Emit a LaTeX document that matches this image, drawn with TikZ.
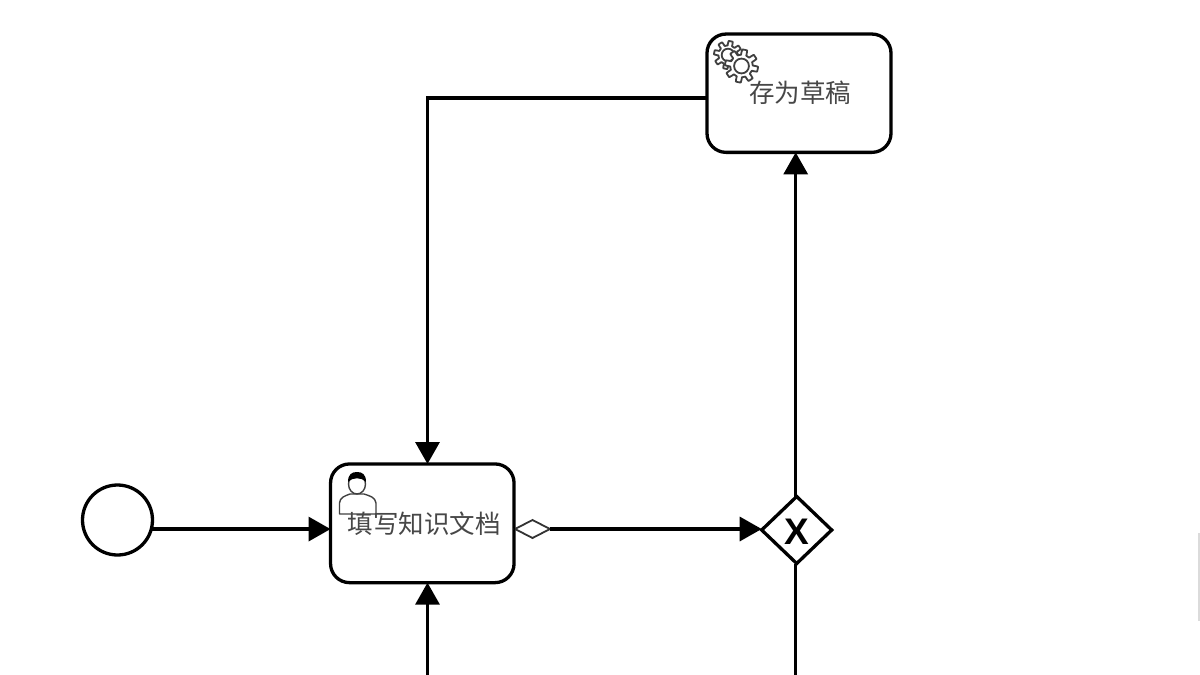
\documentclass[tikz,border=0pt]{standalone}
\usepackage{fontspec}
\newfontfamily\cjkfont{Noto Sans CJK SC}
\newfontfamily\gwfont{Liberation Sans}[BoldFont={Liberation Sans Bold}]
\usetikzlibrary{arrows.meta,shapes.geometric,calc}
\tikzset{
  bpmnline/.style={line width=3.3pt,black},
  flow/.style={bpmnline,-{Triangle[length=22pt,width=24pt]}},
  taskbox/.style={draw,bpmnline,rounded corners=19pt,fill=white,inner sep=0pt,outer sep=0pt},
  eventc/.style={draw,bpmnline,circle,minimum size=70pt,inner sep=0pt,outer sep=0pt,fill=white},
  gatebox/.style={draw,bpmnline,diamond,aspect=1.04,minimum width=70pt,minimum height=67pt,inner sep=0pt,outer sep=0pt,fill=white},
  gatemark/.style={font=\gwfont\bfseries\fontsize{37}{37}\selectfont,inner sep=0pt,text=black},
  tasklabel/.style={font=\cjkfont\fontsize{25.5}{26}\selectfont,inner sep=0pt,text=black!72},
  defaultmark/.style={draw=black!80,line width=1.8pt,diamond,aspect=1.9,minimum width=35pt,minimum height=18pt,inner sep=0pt,outer sep=0pt,fill=white},
  iconline/.style={draw=black!75,line width=1.8pt,fill=white,line join=round},
}
\newcommand{\gearicon}[3]{%
  \draw[iconline,shift={(#1,#2)}] plot[domain=0:360,samples=145,smooth]
    (\x:{#3*(0.84+0.16*max(-1,min(1,3*sin(8*\x))))}) -- cycle;
  \draw[iconline,shift={(#1,#2)}] (0,0) circle ({#3*0.45});
}
\begin{document}
\begin{tikzpicture}[x=1pt,y=-1pt]
\useasboundingbox (0,0) rectangle (1200,675);
\fill[white] (0,0) rectangle (1200,675);
\fill[black!14] (1198,533) rectangle (1200,621);

\node[eventc] (start) at (117.5,520) {};
\node[taskbox,minimum width=183.5pt,minimum height=118.7pt] (fill) at (422.3,523.3) {};
\node[taskbox,minimum width=184pt,minimum height=118.3pt] (save) at (799,93.2) {};
\node[gatebox] (gate) at (796.7,530) {};
\node[gatemark] (gatex) at (796.4,532) {X};
\node[defaultmark] (dflow) at (532.5,529) {};
\coordinate (belowfill) at (427.5,675);
\coordinate (belowgate) at (795.7,675);
\coordinate (topin) at (427.5,464);
\coordinate (savein) at (795.7,152.4);

\draw[flow] (start.-15) -- (start.-15 -| fill.west);
\draw[bpmnline] (fill.east |- dflow) -- (dflow.west);
\draw[flow] (dflow.east) -- (gate.west |- dflow);
\draw[flow] (gate.north -| savein) -- (savein);
\draw[bpmnline] (gate.south -| belowgate) -- (belowgate);
\draw[flow] (belowfill) -- (belowfill |- fill.south);
\draw[flow] (save.west |- 0,98) -- (427.5,98) -- (topin);

% service icon
\gearicon{728}{55}{14}
\gearicon{741.5}{66}{16.5}
% user icon
\draw[iconline,line width=1.4pt] (339.5,514) -- (339.5,503) .. controls (340,497) and (345,496) .. (350,494)
  -- (364,494) .. controls (370,496) and (375,497) .. (376,503) -- (376,514) -- cycle;
\draw[iconline,line width=1.4pt] (357,484) ellipse (8.5pt and 10pt);
\fill[black] (348,482) .. controls (348,474) and (352,472) .. (357,472)
  .. controls (362,472) and (366,474) .. (366,482) .. controls (362,477) and (352,477) .. (348,482) -- cycle;

\node[tasklabel] (filltext) at (424,524) {填写知识文档};
\node[tasklabel] (savetext) at (800,93) {存为草稿};
\end{tikzpicture}
\end{document}
